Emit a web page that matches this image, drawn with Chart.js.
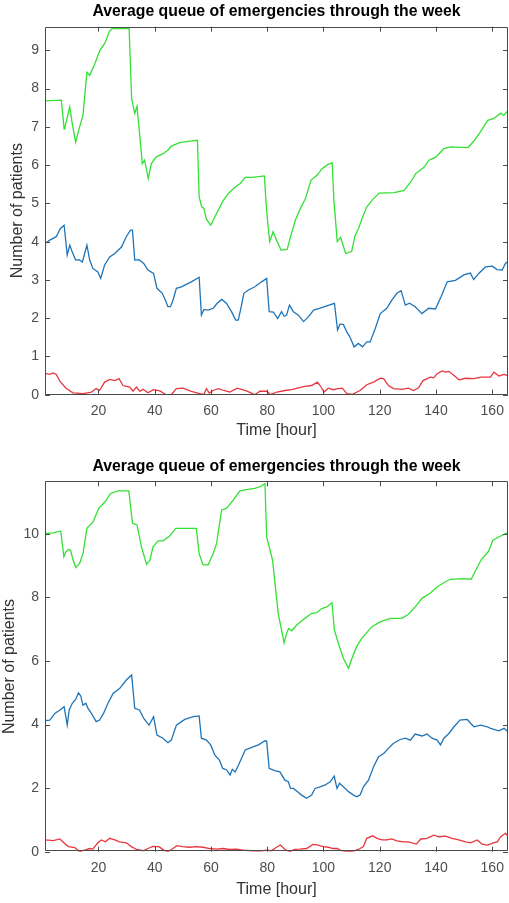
<!DOCTYPE html>
<html>
<head>
<meta charset="utf-8">
<title>Average queue of emergencies through the week</title>
<script src="https://cdn.jsdelivr.net/npm/chart.js@4.4.1/dist/chart.umd.min.js"></script>
<style>
    body { margin: 0; background: #fff; }
    canvas { display: block; }
</style>
</head>
<body>
<canvas id="topChart" width="509" height="451"></canvas>
<canvas id="bottomChart" width="509" height="452"></canvas>
<script>
// Tick labels
const hourTicks = [20, 40, 60, 80, 100, 120, 140, 160];
const topPatientTicks = [0, 1, 2, 3, 4, 5, 6, 7, 8, 9];
const bottomPatientTicks = [0, 2, 4, 6, 8, 10];

// ---- Top chart ----
const topGreenHours = [1, 6.8, 7.8, 8.1, 9.8, 10.7, 11.9, 13.3, 14.5, 15.9, 16.9, 18.7, 20.5, 22.3, 23.9, 24.8, 30.9, 31.8, 32.9, 33.7, 34.4, 35.6, 36.4, 37.7, 38.8, 40.5, 42.9, 44.7, 45.9, 48.9, 52.4, 55.2, 55.8, 56.7, 57.5, 58.3, 59.9, 61.4, 63.2, 64.4, 66.2, 68.6, 70.4, 72.2, 74.6, 79.0, 79.7, 80.2, 80.9, 82.1, 83.3, 84.9, 87.1, 88.3, 90.0, 91.8, 93.6, 95.6, 97.8, 99.5, 101.6, 103.1, 103.7, 104.9, 106.1, 107.9, 110.0, 111.2, 112.5, 113.7, 115.3, 117.7, 119.8, 125.1, 128.7, 131.0, 132.8, 135.8, 137.5, 139.9, 142.8, 145.2, 151.4, 153.7, 155.8, 158.4, 160.6, 163.0, 164.1, 165.6, 166.5];
const topGreenValues = [7.68, 7.7, 6.95, 7.0, 7.52, 7.08, 6.6, 7.0, 7.3, 8.43, 8.35, 8.65, 9.0, 9.19, 9.5, 9.57, 9.57, 7.74, 7.35, 7.54, 7.0, 6.04, 6.13, 5.65, 6.04, 6.21, 6.3, 6.39, 6.5, 6.59, 6.63, 6.65, 5.17, 4.91, 4.87, 4.6, 4.43, 4.65, 4.91, 5.08, 5.26, 5.43, 5.52, 5.68, 5.68, 5.72, 4.91, 4.48, 4.0, 4.26, 4.04, 3.78, 3.8, 4.13, 4.56, 4.87, 5.13, 5.61, 5.74, 5.91, 6.02, 6.06, 5.08, 4.0, 4.11, 3.69, 3.74, 4.15, 4.35, 4.6, 4.9, 5.12, 5.27, 5.28, 5.34, 5.56, 5.78, 5.95, 6.13, 6.21, 6.43, 6.48, 6.46, 6.65, 6.87, 7.17, 7.22, 7.36, 7.3, 7.43, 7.4];

const topBlueHours = [1, 2.7, 5.0, 6.4, 7.8, 8.9, 9.8, 10.7, 11.9, 13.1, 14.3, 15.1, 15.9, 16.9, 18.0, 19.8, 20.8, 22.2, 24.0, 25.8, 28.2, 29.9, 31.4, 32.1, 32.9, 34.4, 36.1, 37.6, 39.6, 40.8, 42.7, 43.8, 44.7, 45.6, 46.5, 47.7, 49.5, 53.0, 55.8, 56.6, 57.5, 59.0, 60.8, 62.2, 63.8, 65.5, 67.3, 68.8, 69.7, 70.5, 71.7, 73.2, 75.6, 78.0, 79.8, 80.7, 82.2, 83.7, 85.1, 86.0, 86.9, 87.9, 89.3, 91.1, 92.9, 94.7, 96.5, 98.8, 101.2, 103.9, 105.0, 105.9, 107.1, 108.3, 109.4, 110.9, 112.4, 113.9, 115.4, 116.6, 118.4, 120.2, 122.5, 124.3, 126.1, 127.6, 129.1, 130.6, 132.6, 135.0, 137.4, 139.8, 141.8, 144.0, 146.9, 149.9, 152.2, 153.4, 155.2, 157.6, 160.0, 161.7, 163.5, 164.7, 166.1];
const topBlueValues = [3.95, 4.04, 4.13, 4.34, 4.43, 3.65, 3.91, 3.73, 3.52, 3.53, 3.47, 3.69, 3.91, 3.52, 3.3, 3.21, 3.04, 3.39, 3.6, 3.69, 3.86, 4.13, 4.3, 4.3, 3.52, 3.53, 3.43, 3.26, 3.17, 2.78, 2.65, 2.47, 2.3, 2.3, 2.47, 2.78, 2.82, 2.95, 3.07, 2.08, 2.23, 2.21, 2.26, 2.39, 2.49, 2.39, 2.17, 1.95, 1.95, 2.21, 2.65, 2.73, 2.82, 2.95, 3.04, 2.17, 2.16, 1.99, 2.17, 2.05, 2.08, 2.34, 2.17, 2.08, 1.91, 2.04, 2.21, 2.26, 2.32, 2.39, 1.69, 1.85, 1.83, 1.64, 1.51, 1.25, 1.34, 1.25, 1.38, 1.38, 1.73, 2.12, 2.26, 2.47, 2.65, 2.72, 2.34, 2.39, 2.3, 2.12, 2.26, 2.24, 2.56, 2.95, 2.99, 3.13, 3.18, 3.01, 3.17, 3.34, 3.36, 3.27, 3.26, 3.43, 3.52];

const topRedHours = [1, 2.7, 3.9, 5.0, 6.4, 8.5, 10.9, 14.5, 17.5, 19.2, 20.4, 22.2, 24.0, 25.8, 27.3, 28.7, 31.1, 32.3, 33.5, 34.7, 35.9, 37.6, 39.6, 41.8, 44.1, 45.9, 47.7, 50.1, 53.0, 56.0, 57.5, 58.4, 59.4, 60.8, 62.6, 64.6, 66.7, 69.3, 72.6, 75.6, 77.4, 79.8, 81.2, 83.4, 86.3, 88.7, 91.1, 93.4, 95.8, 97.8, 98.8, 100.2, 101.7, 103.5, 105.1, 106.7, 108.3, 110.3, 113.0, 115.4, 117.8, 120.2, 121.4, 123.1, 124.9, 127.9, 130.2, 132.0, 133.8, 135.4, 138.0, 139.2, 140.4, 142.2, 143.4, 144.6, 146.4, 148.2, 150.5, 153.5, 155.9, 159.4, 160.6, 162.4, 164.2, 166.2];
const topRedValues = [0.56, 0.53, 0.57, 0.53, 0.34, 0.17, 0.05, 0.03, 0.07, 0.16, 0.11, 0.33, 0.4, 0.37, 0.42, 0.24, 0.2, 0.09, 0.2, 0.09, 0.14, 0.05, 0.13, 0.1, 0.0, 0.0, 0.16, 0.17, 0.09, 0.03, 0.01, 0.16, 0.04, 0.11, 0.16, 0.11, 0.07, 0.17, 0.1, 0.0, 0.09, 0.09, 0.0, 0.07, 0.11, 0.13, 0.18, 0.22, 0.24, 0.33, 0.24, 0.07, 0.17, 0.13, 0.16, 0.17, 0.03, 0.01, 0.11, 0.26, 0.33, 0.43, 0.42, 0.24, 0.16, 0.14, 0.17, 0.11, 0.18, 0.37, 0.46, 0.44, 0.55, 0.62, 0.59, 0.61, 0.5, 0.39, 0.43, 0.42, 0.46, 0.46, 0.59, 0.49, 0.53, 0.48];

// ---- Bottom chart ----
const bottomGreenHours = [1, 3.9, 6.6, 7.7, 8.4, 9.3, 10.1, 10.8, 11.9, 13.3, 14.5, 15.9, 18.1, 20.1, 22.3, 24.3, 27.0, 30.8, 32.1, 33.7, 35.3, 37.1, 38.3, 39.4, 41.2, 43.0, 45.3, 47.5, 50.7, 54.8, 55.8, 57.2, 59.0, 60.8, 62.0, 63.8, 65.5, 67.9, 70.3, 73.2, 75.6, 77.4, 79.2, 79.8, 81.9, 83.9, 86.0, 86.9, 87.6, 88.7, 90.5, 93.4, 95.8, 97.6, 99.4, 101.2, 103.0, 103.9, 105.3, 107.1, 108.9, 110.1, 111.8, 113.6, 115.4, 117.2, 120.2, 123.7, 127.9, 130.2, 132.6, 135.0, 137.9, 140.4, 142.7, 145.1, 149.3, 152.5, 156.1, 158.7, 160.2, 163.0, 165.8];
const bottomGreenValues = [10.01, 10.03, 10.09, 9.28, 9.43, 9.51, 9.49, 9.23, 8.94, 9.07, 9.38, 10.17, 10.38, 10.8, 11.0, 11.27, 11.35, 11.35, 10.33, 10.28, 9.59, 9.04, 9.17, 9.59, 9.78, 9.78, 9.93, 10.17, 10.17, 10.17, 9.38, 9.02, 9.02, 9.38, 9.7, 10.75, 10.8, 11.06, 11.35, 11.4, 11.43, 11.48, 11.58, 9.91, 9.17, 7.5, 6.57, 6.87, 7.02, 6.95, 7.13, 7.34, 7.5, 7.52, 7.65, 7.7, 7.83, 6.97, 6.55, 6.08, 5.77, 6.08, 6.45, 6.71, 6.89, 7.08, 7.23, 7.34, 7.34, 7.47, 7.7, 7.97, 8.13, 8.33, 8.46, 8.57, 8.59, 8.57, 9.19, 9.45, 9.8, 9.93, 10.05];

const bottomBlueHours = [1, 2.7, 4.5, 6.3, 7.8, 8.9, 9.6, 10.7, 11.9, 12.9, 13.7, 14.5, 15.5, 16.3, 17.5, 19.2, 20.4, 21.8, 23.4, 25.2, 27.6, 29.9, 31.8, 32.9, 34.6, 36.1, 38.0, 39.6, 40.8, 42.9, 44.7, 45.9, 47.7, 50.7, 53.7, 55.8, 56.6, 58.4, 59.9, 61.4, 63.0, 64.2, 65.6, 66.8, 67.6, 68.6, 69.8, 72.2, 74.5, 76.9, 79.2, 79.8, 80.7, 82.7, 84.5, 86.3, 87.5, 88.3, 89.3, 90.7, 92.2, 94.0, 95.8, 97.0, 98.8, 100.6, 102.4, 103.8, 104.8, 105.7, 107.1, 108.9, 110.7, 111.8, 113.0, 114.2, 116.0, 117.8, 119.6, 121.4, 123.1, 124.9, 127.3, 129.1, 130.9, 132.6, 135.0, 136.8, 138.6, 140.4, 141.6, 142.8, 144.6, 146.4, 148.5, 151.1, 152.3, 153.5, 155.9, 158.2, 159.4, 160.6, 162.4, 164.2, 166.2];
const bottomBlueValues = [4.12, 4.14, 4.35, 4.46, 4.56, 3.98, 4.46, 4.67, 4.79, 5.0, 4.9, 4.61, 4.67, 4.51, 4.35, 4.09, 4.14, 4.35, 4.67, 4.98, 5.14, 5.4, 5.56, 4.51, 4.46, 4.19, 3.98, 4.25, 3.67, 3.57, 3.43, 3.51, 3.98, 4.16, 4.25, 4.27, 3.57, 3.51, 3.36, 3.04, 2.88, 2.62, 2.57, 2.41, 2.59, 2.51, 2.73, 3.2, 3.28, 3.36, 3.49, 3.48, 2.62, 2.55, 2.51, 2.25, 2.2, 1.99, 1.99, 1.89, 1.78, 1.68, 1.78, 1.99, 2.04, 2.1, 2.2, 2.38, 1.99, 2.15, 2.04, 1.89, 1.78, 1.73, 1.78, 2.04, 2.25, 2.67, 2.99, 3.09, 3.25, 3.41, 3.53, 3.57, 3.51, 3.7, 3.64, 3.7, 3.57, 3.51, 3.36, 3.57, 3.72, 3.93, 4.14, 4.16, 4.04, 3.93, 3.98, 3.93, 3.88, 3.85, 3.8, 3.88, 3.72];

const bottomRedHours = [1, 3.9, 6.3, 8.0, 9.3, 11.6, 13.3, 15.1, 16.9, 18.0, 19.8, 21.0, 22.5, 24.0, 25.8, 27.5, 29.9, 31.7, 33.5, 35.9, 37.6, 39.4, 41.5, 43.2, 44.7, 46.5, 47.9, 49.8, 52.4, 54.8, 57.2, 59.6, 62.0, 64.3, 66.7, 69.1, 71.5, 74.4, 77.4, 79.8, 81.5, 83.3, 84.7, 86.3, 88.0, 89.8, 91.6, 94.0, 96.3, 98.1, 99.9, 101.7, 103.5, 104.9, 106.4, 108.9, 110.7, 112.4, 114.2, 115.4, 117.5, 119.0, 120.8, 122.5, 124.3, 126.1, 128.5, 130.2, 133.0, 134.6, 136.8, 139.2, 141.0, 143.4, 145.7, 148.1, 150.5, 152.3, 154.6, 156.4, 158.2, 160.4, 161.8, 163.0, 164.7, 166.2];
const bottomRedValues = [0.37, 0.35, 0.4, 0.26, 0.16, 0.13, 0.0, 0.05, 0.1, 0.08, 0.28, 0.37, 0.31, 0.42, 0.37, 0.31, 0.28, 0.16, 0.07, 0.03, 0.1, 0.17, 0.16, 0.05, 0.0, 0.1, 0.19, 0.16, 0.14, 0.16, 0.14, 0.1, 0.08, 0.1, 0.07, 0.08, 0.05, 0.03, 0.02, 0.05, 0.03, 0.14, 0.21, 0.07, 0.0, 0.07, 0.08, 0.1, 0.23, 0.21, 0.16, 0.14, 0.1, 0.1, 0.03, 0.0, 0.02, 0.07, 0.16, 0.42, 0.5, 0.42, 0.37, 0.37, 0.4, 0.34, 0.31, 0.31, 0.24, 0.4, 0.42, 0.52, 0.47, 0.49, 0.42, 0.37, 0.31, 0.28, 0.37, 0.24, 0.21, 0.28, 0.31, 0.47, 0.58, 0.42];

const FONT = "'Liberation Sans', Arial, Helvetica, sans-serif";
const GREEN = '#33e033';
const BLUE = '#1f74b8';
const RED = '#e8363f';

function pairs(hours, values) {
    return hours.map((h, i) => ({ x: h, y: values[i] }));
}

// MATLAB style box with ticks pointing inwards on all four sides
const matlabBox = {
    id: 'matlabBox',
    afterDatasetsDraw(chart) {
        const { ctx, chartArea: a, scales: { x, y } } = chart;
        const len = 5;
        ctx.save();
        ctx.strokeStyle = '#4a4a4a';
        ctx.lineWidth = 1;
        ctx.beginPath();
        ctx.rect(Math.round(a.left) + 0.5, Math.round(a.top) + 0.5,
                 Math.round(a.right - a.left) - 1, Math.round(a.bottom - a.top) - 1);
        x.ticks.forEach(t => {
            const px = Math.round(x.getPixelForValue(t.value)) + 0.5;
            ctx.moveTo(px, a.bottom); ctx.lineTo(px, a.bottom - len);
            ctx.moveTo(px, a.top); ctx.lineTo(px, a.top + len);
        });
        y.ticks.forEach(t => {
            const py = Math.round(y.getPixelForValue(t.value)) + 0.5;
            ctx.moveTo(a.left, py); ctx.lineTo(a.left + len, py);
            ctx.moveTo(a.right, py); ctx.lineTo(a.right - len, py);
        });
        ctx.stroke();
        ctx.restore();
    }
};

function makeChart(id, opts) {
    const ctx = document.getElementById(id).getContext('2d');
    const height = ctx.canvas.height;
    const line = (data, color) => ({
        data: data,
        borderColor: color,
        borderWidth: 1.3,
        pointRadius: 0,
        tension: 0,
        fill: false
    });
    return new Chart(ctx, {
        type: 'line',
        data: {
            datasets: [
                line(opts.green, GREEN),
                line(opts.blue, BLUE),
                line(opts.red, RED)
            ]
        },
        options: {
            responsive: false,
            animation: false,
            layout: { padding: { left: 0, right: 1, top: 0, bottom: 0 } },
            plugins: {
                legend: { display: false },
                tooltip: { enabled: false },
                title: {
                    display: true,
                    fullSize: false,
                    text: 'Average queue of emergencies through the week',
                    color: '#000',
                    font: { family: FONT, size: 15.8, weight: 'bold' },
                    padding: opts.titlePad
                }
            },
            scales: {
                x: {
                    type: 'linear',
                    min: 1,
                    max: 165.6,
                    afterBuildTicks: s => { s.ticks = hourTicks.map(v => ({ value: v })); },
                    afterFit: s => {
                        s.height = height - opts.plotBottom;
                        s.paddingLeft = 0;
                        s.paddingRight = 0;
                    },
                    grid: { display: false, drawTicks: false },
                    border: { display: false },
                    ticks: {
                        padding: 8.5,
                        color: '#4d4d4d',
                        maxRotation: 0,
                        font: { family: FONT, size: 14 }
                    },
                    title: {
                        display: true,
                        text: 'Time [hour]',
                        color: '#333',
                        font: { family: FONT, size: 16 },
                        padding: { top: 0, bottom: opts.xTitlePad }
                    }
                },
                y: {
                    min: 0,
                    max: opts.yMax,
                    afterBuildTicks: s => { s.ticks = opts.yTicks.map(v => ({ value: v })); },
                    afterFit: s => {
                        s.width = 45;
                        s.paddingTop = 0;
                        s.paddingBottom = 0;
                    },
                    grid: { display: false, drawTicks: false },
                    border: { display: false },
                    ticks: {
                        padding: 6,
                        color: '#4d4d4d',
                        font: { family: FONT, size: 14 }
                    },
                    title: {
                        display: true,
                        text: 'Number of patients',
                        color: '#333',
                        font: { family: FONT, size: 16 },
                        padding: { top: opts.yTitlePad, bottom: 0 }
                    }
                }
            }
        },
        plugins: [matlabBox]
    });
}

makeChart('topChart', {
    green: pairs(topGreenHours, topGreenValues),
    blue: pairs(topBlueHours, topBlueValues),
    red: pairs(topRedHours, topRedValues),
    yMax: 9.62,
    yTicks: topPatientTicks,
    titlePad: { top: 1.8, bottom: 5.9 },
    plotBottom: 394.7,
    xTitlePad: 10.9,
    yTitlePad: 8
});

makeChart('bottomChart', {
    green: pairs(bottomGreenHours, bottomGreenValues),
    blue: pairs(bottomBlueHours, bottomBlueValues),
    red: pairs(bottomRedHours, bottomRedValues),
    yMax: 11.65,
    yTicks: bottomPatientTicks,
    titlePad: { top: 6.3, bottom: 5.1 },
    plotBottom: 400.7,
    xTitlePad: 3.9,
    yTitlePad: 0
});
</script>
</body>
</html>
